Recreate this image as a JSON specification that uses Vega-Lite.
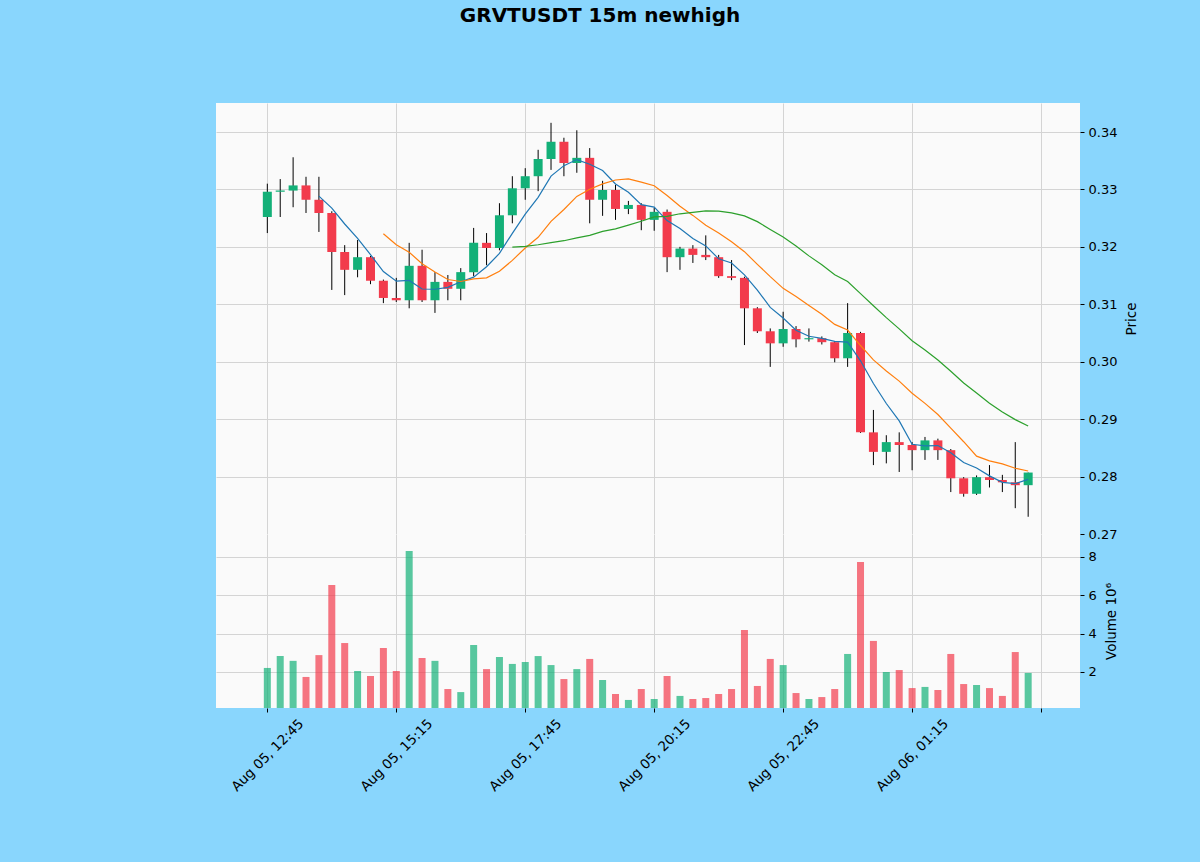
{
  "$schema": "https://vega.github.io/schema/vega-lite/v6.json",
  "background": "#89d6fd",
  "padding": {"left": 216, "top": 6, "right": 76, "bottom": 71},
  "bounds": "flush",
  "title": {
    "text": "GRVTUSDT 15m newhigh",
    "font": "DejaVu Sans",
    "fontSize": 20,
    "fontWeight": "bold",
    "color": "#000000",
    "anchor": "middle",
    "frame": "group",
    "dx": -48,
    "offset": 77
  },
  "data": {
    "values": [
      {"i": 0, "open": 0.3252, "high": 0.3310, "low": 0.3224, "close": 0.3296, "vol_m": 2.21},
      {"i": 1, "open": 0.3296, "high": 0.3318, "low": 0.3252, "close": 0.3298, "vol_m": 2.83},
      {"i": 2, "open": 0.3298, "high": 0.3356, "low": 0.3269, "close": 0.3307, "vol_m": 2.58},
      {"i": 3, "open": 0.3307, "high": 0.3322, "low": 0.3259, "close": 0.3282, "vol_m": 1.74},
      {"i": 4, "open": 0.3282, "high": 0.3322, "low": 0.3226, "close": 0.3259, "vol_m": 2.88, "ma5": 0.32884},
      {"i": 5, "open": 0.3259, "high": 0.3262, "low": 0.3125, "close": 0.3191, "vol_m": 6.54, "ma5": 0.32674},
      {"i": 6, "open": 0.3191, "high": 0.3203, "low": 0.3116, "close": 0.3160, "vol_m": 3.51, "ma5": 0.32398},
      {"i": 7, "open": 0.3160, "high": 0.3212, "low": 0.3147, "close": 0.3182, "vol_m": 2.05, "ma5": 0.32148},
      {"i": 8, "open": 0.3182, "high": 0.3184, "low": 0.3135, "close": 0.3141, "vol_m": 1.79, "ma5": 0.31866},
      {"i": 9, "open": 0.3141, "high": 0.3143, "low": 0.3102, "close": 0.3111, "vol_m": 3.25, "ma5": 0.31570, "ma10": 0.32227},
      {"i": 10, "open": 0.3111, "high": 0.3146, "low": 0.3104, "close": 0.3107, "vol_m": 2.05, "ma5": 0.31402, "ma10": 0.32038},
      {"i": 11, "open": 0.3107, "high": 0.3207, "low": 0.3093, "close": 0.3167, "vol_m": 8.31, "ma5": 0.31416, "ma10": 0.31907},
      {"i": 12, "open": 0.3167, "high": 0.3195, "low": 0.3104, "close": 0.3107, "vol_m": 2.73, "ma5": 0.31266, "ma10": 0.31707},
      {"i": 13, "open": 0.3107, "high": 0.3156, "low": 0.3085, "close": 0.3139, "vol_m": 2.58, "ma5": 0.31262, "ma10": 0.31564},
      {"i": 14, "open": 0.3139, "high": 0.3151, "low": 0.3107, "close": 0.3127, "vol_m": 1.11, "ma5": 0.31294, "ma10": 0.31432},
      {"i": 15, "open": 0.3127, "high": 0.3163, "low": 0.3107, "close": 0.3156, "vol_m": 0.95, "ma5": 0.31392, "ma10": 0.31397},
      {"i": 16, "open": 0.3156, "high": 0.3233, "low": 0.3149, "close": 0.3207, "vol_m": 3.41, "ma5": 0.31472, "ma10": 0.31444},
      {"i": 17, "open": 0.3207, "high": 0.3224, "low": 0.3168, "close": 0.3198, "vol_m": 2.15, "ma5": 0.31654, "ma10": 0.31460},
      {"i": 18, "open": 0.3198, "high": 0.3276, "low": 0.3194, "close": 0.3255, "vol_m": 2.78, "ma5": 0.31886, "ma10": 0.31574},
      {"i": 19, "open": 0.3255, "high": 0.3323, "low": 0.3241, "close": 0.3302, "vol_m": 2.42, "ma5": 0.32236, "ma10": 0.31765, "ma20": 0.31996},
      {"i": 20, "open": 0.3302, "high": 0.3337, "low": 0.3282, "close": 0.3323, "vol_m": 2.52, "ma5": 0.32570, "ma10": 0.31981, "ma20": 0.32010},
      {"i": 21, "open": 0.3323, "high": 0.3369, "low": 0.3297, "close": 0.3353, "vol_m": 2.83, "ma5": 0.32862, "ma10": 0.32167, "ma20": 0.32037},
      {"i": 22, "open": 0.3353, "high": 0.3416, "low": 0.3334, "close": 0.3383, "vol_m": 2.36, "ma5": 0.33232, "ma10": 0.32443, "ma20": 0.32075},
      {"i": 23, "open": 0.3383, "high": 0.3390, "low": 0.3323, "close": 0.3346, "vol_m": 1.63, "ma5": 0.33414, "ma10": 0.32650, "ma20": 0.32107},
      {"i": 24, "open": 0.3346, "high": 0.3403, "low": 0.3329, "close": 0.3355, "vol_m": 2.15, "ma5": 0.33520, "ma10": 0.32878, "ma20": 0.32155},
      {"i": 25, "open": 0.3355, "high": 0.3372, "low": 0.3241, "close": 0.3282, "vol_m": 2.68, "ma5": 0.33438, "ma10": 0.33004, "ma20": 0.32201},
      {"i": 26, "open": 0.3282, "high": 0.3315, "low": 0.3254, "close": 0.3299, "vol_m": 1.58, "ma5": 0.33330, "ma10": 0.33096, "ma20": 0.32270},
      {"i": 27, "open": 0.3299, "high": 0.3308, "low": 0.3247, "close": 0.3266, "vol_m": 0.85, "ma5": 0.33096, "ma10": 0.33164, "ma20": 0.32312},
      {"i": 28, "open": 0.3266, "high": 0.3280, "low": 0.3257, "close": 0.3273, "vol_m": 0.54, "ma5": 0.32950, "ma10": 0.33182, "ma20": 0.32378},
      {"i": 29, "open": 0.3273, "high": 0.3276, "low": 0.3229, "close": 0.3247, "vol_m": 1.11, "ma5": 0.32734, "ma10": 0.33127, "ma20": 0.32446},
      {"i": 30, "open": 0.3247, "high": 0.3268, "low": 0.3228, "close": 0.3261, "vol_m": 0.59, "ma5": 0.32692, "ma10": 0.33065, "ma20": 0.32523},
      {"i": 31, "open": 0.3261, "high": 0.3265, "low": 0.3156, "close": 0.3182, "vol_m": 1.79, "ma5": 0.32458, "ma10": 0.32894, "ma20": 0.32531},
      {"i": 32, "open": 0.3182, "high": 0.3200, "low": 0.3160, "close": 0.3197, "vol_m": 0.75, "ma5": 0.32320, "ma10": 0.32708, "ma20": 0.32576},
      {"i": 33, "open": 0.3197, "high": 0.3203, "low": 0.3172, "close": 0.3186, "vol_m": 0.59, "ma5": 0.32146, "ma10": 0.32548, "ma20": 0.32599},
      {"i": 34, "open": 0.3186, "high": 0.3220, "low": 0.3177, "close": 0.3182, "vol_m": 0.64, "ma5": 0.32016, "ma10": 0.32375, "ma20": 0.32627},
      {"i": 35, "open": 0.3182, "high": 0.3186, "low": 0.3146, "close": 0.3149, "vol_m": 0.85, "ma5": 0.31792, "ma10": 0.32242, "ma20": 0.32623},
      {"i": 36, "open": 0.3149, "high": 0.3177, "low": 0.3142, "close": 0.3146, "vol_m": 1.11, "ma5": 0.31720, "ma10": 0.32089, "ma20": 0.32593},
      {"i": 37, "open": 0.3146, "high": 0.3148, "low": 0.3029, "close": 0.3093, "vol_m": 4.19, "ma5": 0.31512, "ma10": 0.31916, "ma20": 0.32540},
      {"i": 38, "open": 0.3093, "high": 0.3095, "low": 0.3050, "close": 0.3053, "vol_m": 1.27, "ma5": 0.31246, "ma10": 0.31696, "ma20": 0.32439},
      {"i": 39, "open": 0.3053, "high": 0.3058, "low": 0.2991, "close": 0.3032, "vol_m": 2.68, "ma5": 0.30946, "ma10": 0.31481, "ma20": 0.32304},
      {"i": 40, "open": 0.3032, "high": 0.3087, "low": 0.3026, "close": 0.3057, "vol_m": 2.36, "ma5": 0.30762, "ma10": 0.31277, "ma20": 0.32171},
      {"i": 41, "open": 0.3057, "high": 0.3062, "low": 0.3025, "close": 0.3039, "vol_m": 0.90, "ma5": 0.30548, "ma10": 0.31134, "ma20": 0.32014},
      {"i": 42, "open": 0.3039, "high": 0.3058, "low": 0.3035, "close": 0.3041, "vol_m": 0.59, "ma5": 0.30444, "ma10": 0.30978, "ma20": 0.31843},
      {"i": 43, "open": 0.3041, "high": 0.3044, "low": 0.3030, "close": 0.3034, "vol_m": 0.69, "ma5": 0.30406, "ma10": 0.30826, "ma20": 0.31687},
      {"i": 44, "open": 0.3034, "high": 0.3036, "low": 0.2999, "close": 0.3006, "vol_m": 1.11, "ma5": 0.30354, "ma10": 0.30650, "ma20": 0.31513},
      {"i": 45, "open": 0.3006, "high": 0.3102, "low": 0.2991, "close": 0.3050, "vol_m": 2.94, "ma5": 0.30340, "ma10": 0.30551, "ma20": 0.31397},
      {"i": 46, "open": 0.3050, "high": 0.3052, "low": 0.2876, "close": 0.2877, "vol_m": 7.74, "ma5": 0.30016, "ma10": 0.30282, "ma20": 0.31186},
      {"i": 47, "open": 0.2877, "high": 0.2916, "low": 0.2820, "close": 0.2843, "vol_m": 3.62, "ma5": 0.29620, "ma10": 0.30032, "ma20": 0.30974},
      {"i": 48, "open": 0.2843, "high": 0.2872, "low": 0.2823, "close": 0.2860, "vol_m": 2.00, "ma5": 0.29272, "ma10": 0.29839, "ma20": 0.30768},
      {"i": 49, "open": 0.2860, "high": 0.2877, "low": 0.2808, "close": 0.2855, "vol_m": 2.10, "ma5": 0.28970, "ma10": 0.29662, "ma20": 0.30572},
      {"i": 50, "open": 0.2855, "high": 0.2860, "low": 0.2811, "close": 0.2846, "vol_m": 1.16, "ma5": 0.28562, "ma10": 0.29451, "ma20": 0.30364},
      {"i": 51, "open": 0.2846, "high": 0.2869, "low": 0.2829, "close": 0.2863, "vol_m": 1.22, "ma5": 0.28534, "ma10": 0.29275, "ma20": 0.30205},
      {"i": 52, "open": 0.2863, "high": 0.2866, "low": 0.2829, "close": 0.2846, "vol_m": 1.06, "ma5": 0.28540, "ma10": 0.29080, "ma20": 0.30029},
      {"i": 53, "open": 0.2846, "high": 0.2848, "low": 0.2773, "close": 0.2797, "vol_m": 2.94, "ma5": 0.28414, "ma10": 0.28843, "ma20": 0.29835},
      {"i": 54, "open": 0.2797, "high": 0.2799, "low": 0.2765, "close": 0.2770, "vol_m": 1.37, "ma5": 0.28244, "ma10": 0.28607, "ma20": 0.29629},
      {"i": 55, "open": 0.2770, "high": 0.2802, "low": 0.2768, "close": 0.2799, "vol_m": 1.32, "ma5": 0.28150, "ma10": 0.28356, "ma20": 0.29454},
      {"i": 56, "open": 0.2799, "high": 0.2820, "low": 0.2781, "close": 0.2794, "vol_m": 1.16, "ma5": 0.28012, "ma10": 0.28273, "ma20": 0.29278},
      {"i": 57, "open": 0.2794, "high": 0.2803, "low": 0.2773, "close": 0.2790, "vol_m": 0.75, "ma5": 0.27900, "ma10": 0.28220, "ma20": 0.29126},
      {"i": 58, "open": 0.2790, "high": 0.2860, "low": 0.2745, "close": 0.2785, "vol_m": 3.04, "ma5": 0.27876, "ma10": 0.28145, "ma20": 0.28992},
      {"i": 59, "open": 0.2785, "high": 0.2807, "low": 0.2730, "close": 0.2807, "vol_m": 1.95, "ma5": 0.27950, "ma10": 0.28097, "ma20": 0.28880}
    ]
  },
  "spacing": 0,
  "vconcat": [
    {
      "width": 864,
      "height": 431,
      "encoding": {
        "x": {
          "field": "i",
          "type": "quantitative",
          "scale": {"domain": [-3.98, 63.02], "nice": false, "zero": false, "padding": 0},
          "axis": {"values": [0, 10, 20, 30, 40, 50, 60], "labels": false, "ticks": false, "tickSize": 0, "labelPadding": 0, "domain": false, "title": null, "grid": true, "minExtent": 0, "maxExtent": 0, "offset": 0}
        }
      },
      "layer": [
        {
          "mark": {"type": "rule", "color": "#000000", "strokeWidth": 1},
          "encoding": {
            "y": {
              "field": "low",
              "type": "quantitative",
              "title": "Price",
              "scale": {"domain": [0.27, 0.34505], "nice": false, "zero": false, "padding": 0},
              "axis": {"orient": "right", "values": [0.27, 0.28, 0.29, 0.30, 0.31, 0.32, 0.33, 0.34], "format": ".2f", "titleAngle": -90, "titleBaseline": "top", "titlePadding": 8}
            },
            "y2": {"field": "high"}
          }
        },
        {
          "mark": {"type": "bar", "width": 9},
          "encoding": {
            "y": {"field": "open", "type": "quantitative", "title": "Price"},
            "y2": {"field": "close"},
            "color": {"condition": {"test": "datum.close >= datum.open", "value": "#13b078"}, "value": "#f23b4c"}
          }
        },
        {
          "mark": {"type": "line", "color": "#1f77b4", "strokeWidth": 1.2},
          "encoding": {"y": {"field": "ma5", "type": "quantitative", "title": "Price"}}
        },
        {
          "mark": {"type": "line", "color": "#ff7f0e", "strokeWidth": 1.2},
          "encoding": {"y": {"field": "ma10", "type": "quantitative", "title": "Price"}}
        },
        {
          "mark": {"type": "line", "color": "#2ca02c", "strokeWidth": 1.2},
          "encoding": {"y": {"field": "ma20", "type": "quantitative", "title": "Price"}}
        }
      ]
    },
    {
      "width": 864,
      "height": 174,
      "mark": {"type": "bar", "width": 7, "opacity": 0.7, "clip": true},
      "encoding": {
        "x": {
          "field": "i",
          "type": "quantitative",
          "scale": {"domain": [-3.98, 63.02], "nice": false, "zero": false, "padding": 0},
          "axis": {
            "values": [0, 10, 20, 30, 40, 50, 60],
            "title": null,
            "grid": true,
            "domain": false,
            "ticks": true,
            "tickSize": 4,
            "labelAngle": -45,
            "labelAlign": "center",
            "labelBaseline": "middle",
            "labelFontSize": 13.5,
            "labelPadding": 43,
            "labelOverlap": false,
            "labelFlush": false,
            "labelExpr": "datum.value == 0 ? 'Aug 05, 12:45' : datum.value == 10 ? 'Aug 05, 15:15' : datum.value == 20 ? 'Aug 05, 17:45' : datum.value == 30 ? 'Aug 05, 20:15' : datum.value == 40 ? 'Aug 05, 22:45' : datum.value == 50 ? 'Aug 06, 01:15' : ''"
          }
        },
        "y": {
          "field": "vol_m",
          "type": "quantitative",
          "title": "Volume  10⁶",
          "scale": {"domain": [0.12, 9.2], "nice": false, "zero": false, "padding": 0},
          "axis": {"orient": "right", "values": [2, 4, 6, 8], "format": "d", "titleAngle": -90, "titleBaseline": "top", "titlePadding": 8}
        },
        "color": {"condition": {"test": "datum.close >= datum.open", "value": "#13b078"}, "value": "#f23b4c"}
      }
    }
  ],
  "config": {
    "view": {"fill": "#fafafa", "stroke": null},
    "axis": {
      "labelFont": "DejaVu Sans",
      "titleFont": "DejaVu Sans",
      "labelFontSize": 13,
      "titleFontSize": 13.5,
      "titleFontWeight": "normal",
      "labelColor": "#000000",
      "titleColor": "#000000",
      "tickColor": "#000000",
      "tickSize": 4,
      "labelPadding": 4,
      "gridColor": "#d4d4d4",
      "domain": false
    }
  }
}
